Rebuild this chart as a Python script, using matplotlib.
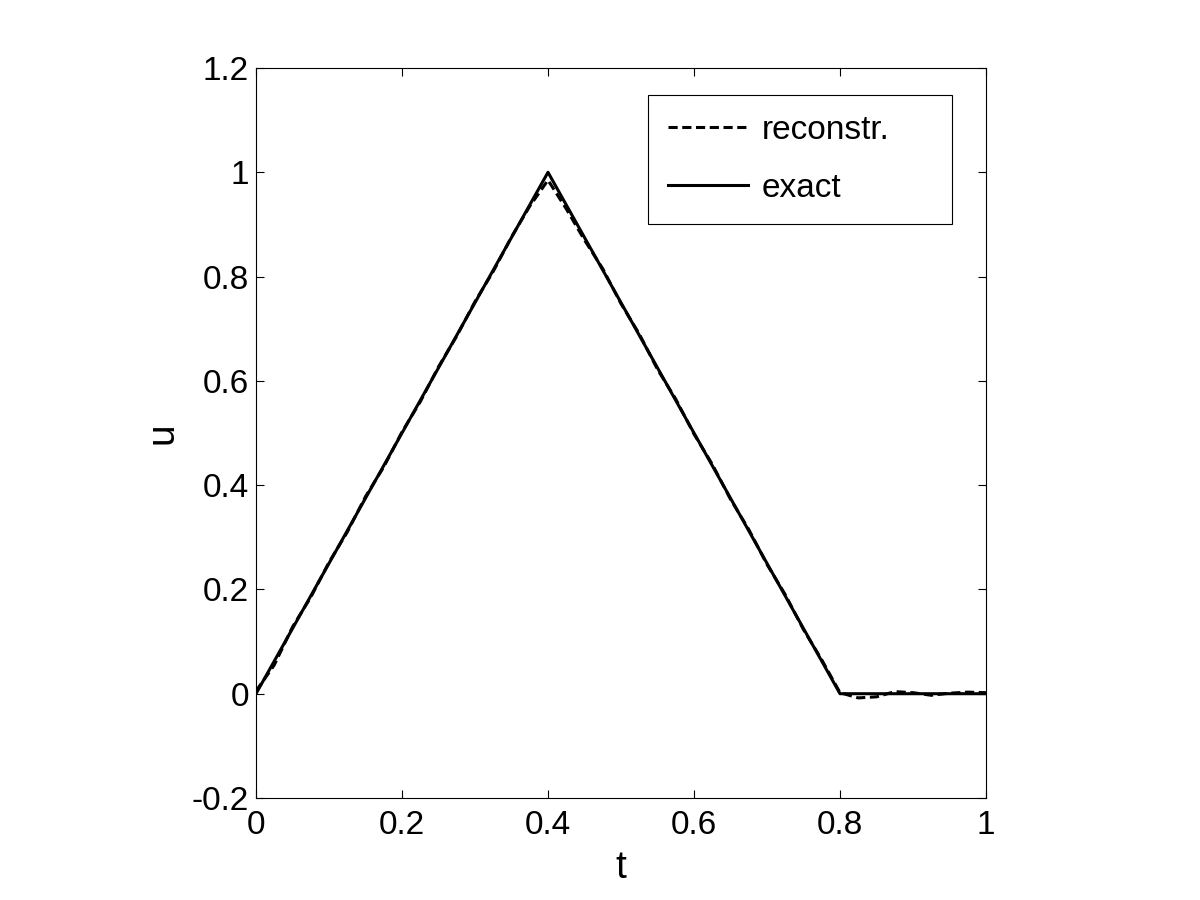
import matplotlib.pyplot as plt
from matplotlib.ticker import FuncFormatter

plt.rcParams['font.family'] = ['Liberation Sans', 'DejaVu Sans']

# exact solution (triangle)
t_exact = [0.0, 0.4, 0.8, 1.0]
u_exact = [0.0, 1.0, 0.0, 0.0]

# reconstruction
t_rec = [0.0, 0.025, 0.05, 0.075, 0.1, 0.125, 0.15, 0.175, 0.2, 0.225,
         0.25, 0.275, 0.3, 0.325, 0.35, 0.375, 0.4, 0.425, 0.45, 0.475,
         0.5, 0.525, 0.55, 0.575, 0.6, 0.625, 0.65, 0.675, 0.7, 0.725,
         0.75, 0.775, 0.8, 0.825, 0.85, 0.875, 0.9, 0.925, 0.95, 0.975, 1.0]
u_rec = [0.005, 0.055, 0.128, 0.185, 0.252, 0.31, 0.378, 0.435, 0.502, 0.56,
         0.627, 0.686, 0.752, 0.81, 0.876, 0.935, 0.985, 0.93, 0.87, 0.815,
         0.748, 0.69, 0.622, 0.565, 0.498, 0.44, 0.373, 0.315, 0.248, 0.19,
         0.123, 0.065, 0.002, -0.008, -0.006, 0.004, 0.002, -0.003, 0.001, 0.003, 0.002]

xticks = [0, 0.2, 0.4, 0.6, 0.8, 1.0]
yticks = [-0.2, 0, 0.2, 0.4, 0.6, 0.8, 1.0, 1.2]

fig = plt.figure(figsize=(12, 9), dpi=100)
ax = fig.add_axes([256/1200, 102/900, 730/1200, 730/900])

ax.plot(t_rec, u_rec, color='k', lw=2.2, linestyle=(0, (3, 1.5)), label='reconstr.')
ax.plot(t_exact, u_exact, color='k', lw=2.2, label='exact')

ax.set_xlim(0, 1)
ax.set_ylim(-0.2, 1.2)
ax.set_xticks(xticks)
ax.set_yticks(yticks)
fmt = FuncFormatter(lambda v, p: ('%g' % round(v, 2)))
ax.xaxis.set_major_formatter(fmt)
ax.yaxis.set_major_formatter(fmt)
ax.tick_params(direction='in', top=True, right=True, length=6, width=0.8,
               labelsize=24)
ax.tick_params(axis='x', pad=9)
ax.tick_params(axis='y', pad=5)
for s in ax.spines.values():
    s.set_linewidth(0.8)

ax.set_xlabel('t', fontsize=28, labelpad=6)
ax.set_ylabel('u', fontsize=28, labelpad=8)

# legend stretched to the box width, like the MATLAB one
leg = ax.legend(loc='upper left', bbox_to_anchor=(0.537, 0.5, 0.416, 0.463),
                mode='expand', borderaxespad=0,
                fontsize=24, handlelength=2.4, handletextpad=0.4,
                fancybox=False, framealpha=1, edgecolor='k',
                borderpad=0.6, labelspacing=0.8)
leg.get_frame().set_linewidth(0.8)

fig.savefig('out.png', dpi=100)
